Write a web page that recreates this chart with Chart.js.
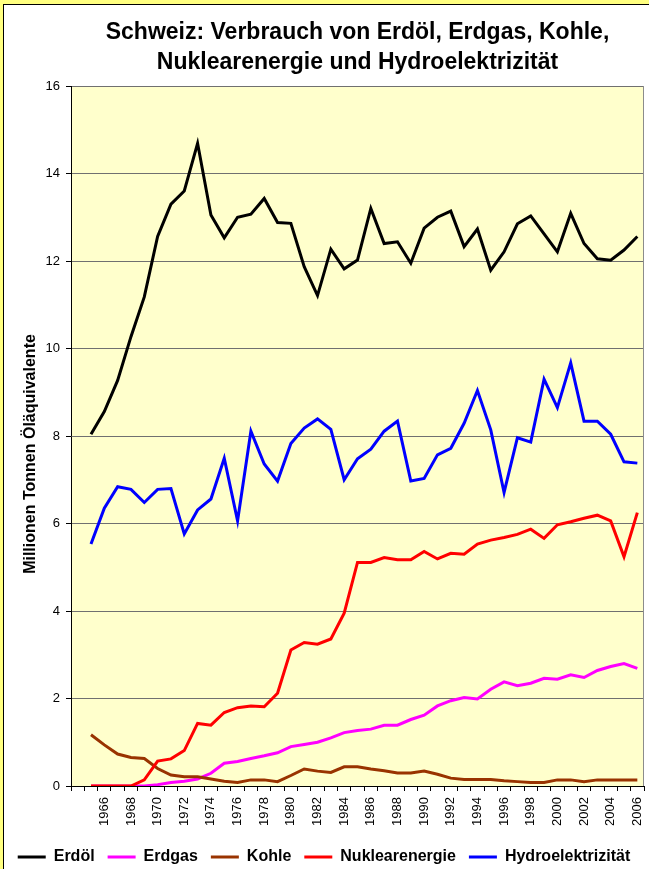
<!DOCTYPE html>
<html>
<head>
<meta charset="utf-8">
<script src="https://cdn.jsdelivr.net/npm/chart.js@4.4.1/dist/chart.umd.min.js"></script>
<style>
  html, body { margin: 0; padding: 0; width: 649px; height: 869px; overflow: hidden; background: #ffff80; }
  #frame { position: absolute; left: 3px; top: 4px; width: 700px; height: 900px; border: 1px solid #000; background: #fff; }
  #chart { position: absolute; left: 0; top: 0; }
</style>
</head>
<body>
<div id="frame"></div>
<canvas id="chart" width="649" height="875"></canvas>
<script>
// first slot (1964) is empty in the original chart
const years = ['', 1965, 1966, 1967, 1968, 1969, 1970, 1971, 1972, 1973, 1974, 1975, 1976, 1977, 1978, 1979,
  1980, 1981, 1982, 1983, 1984, 1985, 1986, 1987, 1988, 1989, 1990, 1991, 1992, 1993, 1994,
  1995, 1996, 1997, 1998, 1999, 2000, 2001, 2002, 2003, 2004, 2005, 2006];

const erdoel = [null, 8.04, 8.56, 9.27, 10.27, 11.18, 12.56, 13.30, 13.60, 14.69, 13.05,
  12.53, 13.00, 13.07, 13.43, 12.88, 12.86, 11.87, 11.21, 12.27, 11.82,
  12.02, 13.20, 12.40, 12.44, 11.95, 12.75, 13.00, 13.14, 12.33, 12.73,
  11.79, 12.21, 12.85, 13.03, 12.62, 12.21, 13.09, 12.40, 12.05, 12.02,
  12.25, 12.56];
const erdgas = [null, 0, 0, 0, 0, 0, 0.03, 0.08, 0.11, 0.16, 0.29,
  0.52, 0.56, 0.63, 0.69, 0.76, 0.90, 0.95, 1.00, 1.10, 1.22,
  1.27, 1.30, 1.39, 1.39, 1.52, 1.62, 1.83, 1.95, 2.02, 1.99,
  2.21, 2.38, 2.29, 2.35, 2.46, 2.44, 2.54, 2.48, 2.64, 2.73,
  2.80, 2.69];
const kohle = [null, 1.17, 0.94, 0.73, 0.65, 0.63, 0.40, 0.25, 0.21, 0.21, 0.16,
  0.11, 0.08, 0.14, 0.14, 0.10, 0.24, 0.39, 0.34, 0.31, 0.44,
  0.44, 0.39, 0.35, 0.30, 0.30, 0.34, 0.27, 0.18, 0.15, 0.15,
  0.15, 0.12, 0.10, 0.08, 0.08, 0.14, 0.14, 0.10, 0.14, 0.14,
  0.14, 0.14];
const nuklear = [null, 0, 0, 0, 0, 0.14, 0.57, 0.62, 0.81, 1.43, 1.39,
  1.68, 1.79, 1.83, 1.81, 2.12, 3.11, 3.28, 3.24, 3.36, 3.95,
  5.11, 5.11, 5.22, 5.17, 5.17, 5.36, 5.19, 5.32, 5.30, 5.53,
  5.62, 5.68, 5.75, 5.87, 5.66, 5.97, 6.04, 6.12, 6.19, 6.06,
  5.24, 6.25];
const hydro = [null, 5.53, 6.35, 6.84, 6.78, 6.48, 6.78, 6.80, 5.76, 6.31, 6.56,
  7.49, 6.06, 8.11, 7.36, 6.97, 7.83, 8.18, 8.39, 8.15, 7.00,
  7.48, 7.70, 8.11, 8.34, 6.97, 7.03, 7.57, 7.72, 8.29, 9.04,
  8.14, 6.71, 7.96, 7.86, 9.30, 8.65, 9.67, 8.34, 8.34, 8.04,
  7.41, 7.38];

const seriesNames = ['Erdöl', 'Erdgas', 'Kohle', 'Nuklearenergie', 'Hydroelektrizität'];
const seriesColors = ['#000000', '#ff00ff', '#993300', '#ff0000', '#0000ff'];
const seriesData = [erdoel, erdgas, kohle, nuklear, hydro];
const yTitle = 'Millionen Tonnen Öläquivalente';

Chart.defaults.font.family = "'Liberation Sans', Arial, sans-serif";
Chart.defaults.color = '#000';

// pale plot background, grey frame on the right, y title sits a bit low like in the original
const plotArea = {
  id: 'plotArea',
  beforeDraw(chart) {
    const { ctx, chartArea: a } = chart;
    ctx.save();
    ctx.fillStyle = '#ffffcc';
    ctx.fillRect(a.left, a.top, a.right - a.left, a.bottom - a.top);
    ctx.restore();
  },
  beforeDatasetsDraw(chart) {
    const { ctx, chartArea: a } = chart;
    ctx.save();
    ctx.strokeStyle = '#8c8c8c';
    ctx.lineWidth = 1;
    ctx.beginPath();
    ctx.moveTo(a.right - 0.5, a.top);
    ctx.lineTo(a.right - 0.5, a.bottom);
    ctx.stroke();
    ctx.restore();
  },
  afterDraw(chart) {
    const { ctx, chartArea: a } = chart;
    ctx.save();
    ctx.translate(31, (a.top + a.bottom) / 2 + 18);
    ctx.rotate(-Math.PI / 2);
    ctx.font = "bold 16px 'Liberation Sans', Arial, sans-serif";
    ctx.fillStyle = '#000';
    ctx.textAlign = 'center';
    ctx.textBaseline = 'middle';
    ctx.fillText(yTitle, 0, 0);
    ctx.restore();
  }
};

new Chart(document.getElementById('chart'), {
  type: 'line',
  data: {
    labels: years,
    datasets: seriesNames.map((name, i) => ({
      label: name,
      data: seriesData[i],
      borderColor: seriesColors[i],
      backgroundColor: seriesColors[i],
      borderWidth: 3,
      pointRadius: 0,
      tension: 0,
      order: seriesNames.length - i
    }))
  },
  options: {
    responsive: false,
    animation: false,
    layout: { padding: { left: 4, right: 5, top: 0, bottom: 0 } },
    plugins: {
      title: {
        display: true,
        fullSize: false,
        text: ['Schweiz: Verbrauch von Erdöl, Erdgas, Kohle,', 'Nuklearenergie und Hydroelektrizität'],
        font: { size: 23, weight: 'bold', lineHeight: 30 / 23 },
        color: '#000',
        padding: { top: 18, bottom: 8 }
      },
      legend: {
        position: 'bottom',
        labels: {
          usePointStyle: true,
          pointStyle: 'line',
          pointStyleWidth: 28,
          padding: 13,
          font: { size: 16, weight: 'bold' },
          color: '#000',
          sort: (a, b) => a.datasetIndex - b.datasetIndex
        }
      },
      tooltip: { enabled: false }
    },
    scales: {
      x: {
        offset: true,
        afterFit(scale) {
          scale.height = 50;
          scale.paddingLeft = 0;
          scale.paddingRight = 0;
        },
        grid: { offset: true, drawOnChartArea: false, drawTicks: true, tickLength: 5, tickColor: '#000' },
        border: { display: true, color: '#000', width: 1 },
        ticks: {
          autoSkip: false,
          maxRotation: 90,
          minRotation: 90,
          padding: 6,
          font: { size: 13 },
          callback: function (value, index) {
            return index % 2 === 0 ? this.getLabelForValue(value) : '';
          }
        }
      },
      y: {
        min: 0,
        max: 16,
        afterFit(scale) { scale.width = 67; },
        grid: { color: '#707070', lineWidth: 1, drawTicks: true, tickLength: 5, tickColor: '#000' },
        border: { display: true, color: '#000', width: 1 },
        ticks: { stepSize: 2, padding: 6, font: { size: 13 } }
      }
    }
  },
  plugins: [plotArea]
});
</script>
</body>
</html>
